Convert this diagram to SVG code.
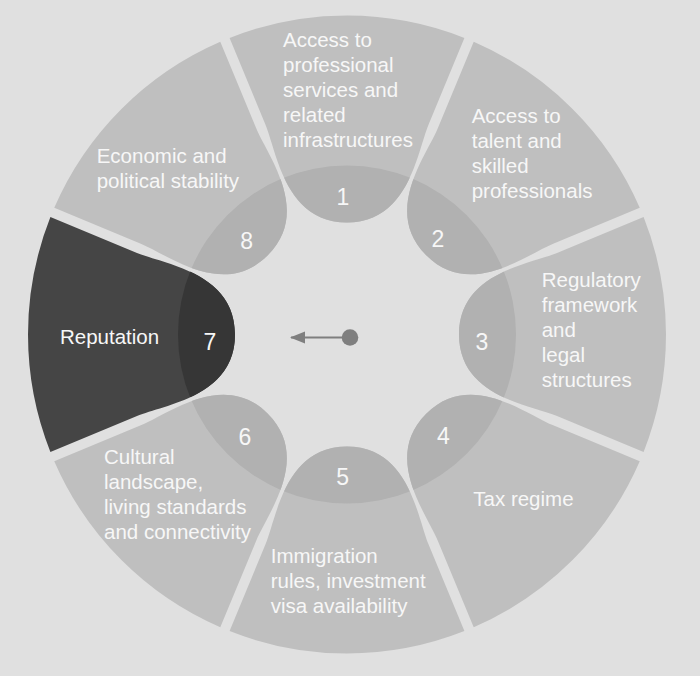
<svg xmlns="http://www.w3.org/2000/svg" xmlns:xlink="http://www.w3.org/1999/xlink" width="700" height="676" viewBox="0 0 700 676">
<style>
.seg{fill:#bfbfbf}
.tab{fill:#b1b1b1}
.segd{fill:#454545}
.tabd{fill:#363636}
.lbl{font-family:"Liberation Sans",Arial,sans-serif;font-size:20.5px;fill:#f7f7f7}
.num{font-family:"Liberation Sans",Arial,sans-serif;font-size:23px;fill:#f7f7f7;text-anchor:middle}
</style>
<defs>
<path id="seg" d="M112,0 C112,-62 182.3,-70.1 210,-81.6 L296.6,-117.4 A319,319 0 0 1 296.6,117.4 L210,81.6 C182.3,70.1 112,62 112,0 Z"/>
<clipPath id="innerClip" clipPathUnits="userSpaceOnUse"><circle cx="0" cy="0" r="169"/></clipPath>
<marker id="arrowhead" markerWidth="16" markerHeight="14" refX="14" refY="6.5" orient="auto" markerUnits="userSpaceOnUse">
<path d="M0,0.5 L15,6.5 L0,12.5 Z" fill="#7f7f7f"/>
</marker>
</defs>
<rect x="0" y="0" width="700" height="676" fill="#e0e0e0"/>

<g id="node1">
<g transform="translate(347,334.5) rotate(-90)"><use xlink:href="#seg" class="seg"/><use xlink:href="#seg" class="tab" clip-path="url(#innerClip)"/></g>
<text class="lbl" x="283"><tspan x="283" y="46.7">Access to</tspan><tspan x="283" y="71.7">professional</tspan><tspan x="283" y="96.7">services and</tspan><tspan x="283" y="121.7">related</tspan><tspan x="283" y="146.7">infrastructures</tspan></text>
<text class="num" x="343" y="205">1</text>
</g>

<g id="node2">
<g transform="translate(347,334.5) rotate(-45)"><use xlink:href="#seg" class="seg"/><use xlink:href="#seg" class="tab" clip-path="url(#innerClip)"/></g>
<text class="lbl"><tspan x="471.7" y="123.3">Access to</tspan><tspan x="471.7" y="148.3">talent and</tspan><tspan x="471.7" y="173.3">skilled</tspan><tspan x="471.7" y="198.3">professionals</tspan></text>
<text class="num" x="438" y="246.5">2</text>
</g>

<g id="node3">
<g transform="translate(347,334.5)"><use xlink:href="#seg" class="seg"/><use xlink:href="#seg" class="tab" clip-path="url(#innerClip)"/></g>
<text class="lbl"><tspan x="541.7" y="286.7">Regulatory</tspan><tspan x="541.7" y="311.7">framework</tspan><tspan x="541.7" y="336.7">and</tspan><tspan x="541.7" y="361.7">legal</tspan><tspan x="541.7" y="386.7">structures</tspan></text>
<text class="num" x="482" y="350">3</text>
</g>

<g id="node4">
<g transform="translate(347,334.5) rotate(45)"><use xlink:href="#seg" class="seg"/><use xlink:href="#seg" class="tab" clip-path="url(#innerClip)"/></g>
<text class="lbl" x="473.3" y="506">Tax regime</text>
<text class="num" x="443.3" y="443.5">4</text>
</g>

<g id="node5">
<g transform="translate(347,334.5) rotate(90)"><use xlink:href="#seg" class="seg"/><use xlink:href="#seg" class="tab" clip-path="url(#innerClip)"/></g>
<text class="lbl"><tspan x="270.7" y="562.7">Immigration</tspan><tspan x="270.7" y="587.7">rules, investment</tspan><tspan x="270.7" y="612.7">visa availability</tspan></text>
<text class="num" x="342.7" y="485">5</text>
</g>

<g id="node6">
<g transform="translate(347,334.5) rotate(135)"><use xlink:href="#seg" class="seg"/><use xlink:href="#seg" class="tab" clip-path="url(#innerClip)"/></g>
<text class="lbl"><tspan x="104" y="463.7">Cultural</tspan><tspan x="104" y="488.7">landscape,</tspan><tspan x="104" y="513.7">living standards</tspan><tspan x="104" y="538.7">and connectivity</tspan></text>
<text class="num" x="245" y="445">6</text>
</g>

<g id="node7">
<g transform="translate(347,334.5) rotate(180)"><use xlink:href="#seg" class="segd"/><use xlink:href="#seg" class="tabd" clip-path="url(#innerClip)"/></g>
<text class="lbl" x="60" y="344" fill="#ffffff">Reputation</text>
<text class="num" x="210" y="350">7</text>
</g>

<g id="node8">
<g transform="translate(347,334.5) rotate(225)"><use xlink:href="#seg" class="seg"/><use xlink:href="#seg" class="tab" clip-path="url(#innerClip)"/></g>
<text class="lbl"><tspan x="96.7" y="163.3">Economic and</tspan><tspan x="96.7" y="188.3">political stability</tspan></text>
<text class="num" x="246.7" y="248.5">8</text>
</g>

<g id="connectors">
<line x1="350" y1="337.5" x2="291" y2="337.5" stroke="#7f7f7f" stroke-width="2" marker-end="url(#arrowhead)"/>
<circle cx="350" cy="337.5" r="8.3" fill="#7f7f7f"/>
</g>
</svg>
